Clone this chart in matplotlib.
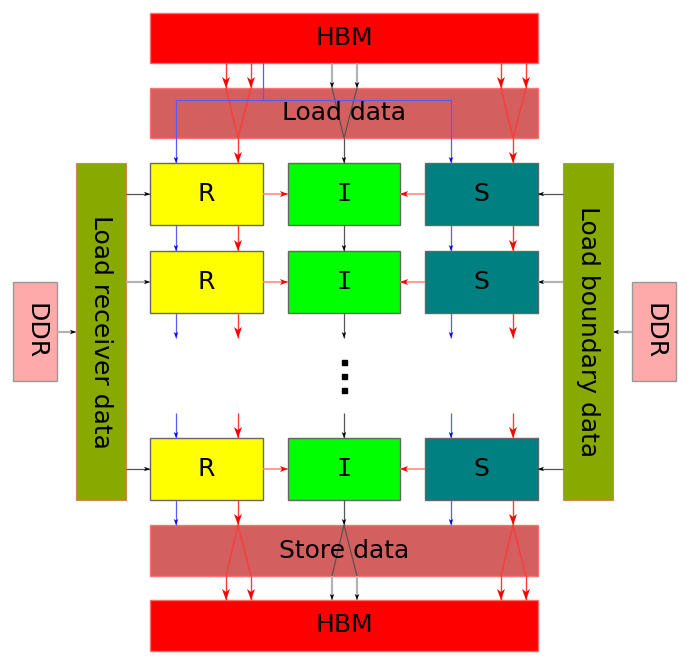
import matplotlib.pyplot as plt
from matplotlib.patches import Rectangle, Polygon

# labels of the diagram
hbm_label = "HBM"
load_label = "Load data"
store_label = "Store data"
kernel_labels = ["R", "I", "S"]
kernel_colors = ["#ffff00", "#00ff00", "#008080"]
side_labels = ["Load receiver data", "Load boundary data"]
ddr_label = "DDR"

fig = plt.figure(figsize=(6.9, 6.63), dpi=100)
ax = fig.add_axes([0, 0, 1, 1])
ax.set_xlim(0, 690)
ax.set_ylim(663, 0)
ax.axis("off")

FS = 18


def box(x0, y0, x1, y1, fc, ec, text="", rot=0, lw=1.0, z=1, family=None):
    ax.add_patch(Rectangle((x0, y0), x1 - x0, y1 - y0, facecolor=fc,
                           edgecolor=ec, lw=lw, zorder=z))
    if text:
        kw = {"family": family} if family else {}
        ax.text((x0 + x1) / 2, (y0 + y1) / 2, text, ha="center",
                va="center", rotation=rot, fontsize=FS, zorder=z + 5, **kw)


def head(x, y, dx, dy, color, L, W, notch):
    px, py = -dy, dx
    pts = [(x, y),
           (x - dx * L + px * W / 2, y - dy * L + py * W / 2),
           (x - dx * (L - notch), y - dy * (L - notch)),
           (x - dx * L - px * W / 2, y - dy * L - py * W / 2)]
    ax.add_patch(Polygon(pts, closed=True, facecolor=color, lw=0, zorder=6))


STYLE = {
    "red": dict(line="#ff3a3a", head="#ff0000", L=11, W=8, notch=3, lw=1.0),
    "pink": dict(line="#ff8a8a", head="#ff0000", L=8, W=6, notch=2, lw=1.2),
    "blue": dict(line="#5a5aff", head="#0000ff", L=6, W=4.5, notch=1.5, lw=0.9),
    "black": dict(line="#555555", head="#000000", L=6, W=4.5, notch=1.5, lw=0.9),
    "gray": dict(line="#b3b3b3", head="#000000", L=6, W=4.5, notch=1.5, lw=1.6),
}


def arrow(xs, ys, kind, tip=True):
    s = STYLE[kind]
    ax.plot(xs, ys, color=s["line"], lw=s["lw"], zorder=5,
            solid_capstyle="butt")
    if tip:
        dx, dy = xs[-1] - xs[-2], ys[-1] - ys[-2]
        n = (dx ** 2 + dy ** 2) ** 0.5
        head(xs[-1], ys[-1], dx / n, dy / n, s["head"], s["L"], s["W"], s["notch"])


# geometry
left, right = 150, 538
top_hbm = (13, 63)
load = (88, 138)
store = (525, 576)
bot_hbm = (600, 651)
cols = [(150, 263), (288, 400), (425, 538)]
rows = [(163, 225), (251, 313), (438, 500)]
xb_r, xr_r, xc_i, xb_s, xr_s = 176, 238, 344, 451, 513

# memory blocks
box(left, top_hbm[0], right, top_hbm[1], "#ff0000", "#ff6a6a", hbm_label)
box(left, load[0], right, load[1], "#d35f5f", "#ff7070", load_label)
box(left, store[0], right, store[1], "#d35f5f", "#ff7070", store_label)
box(left, bot_hbm[0], right, bot_hbm[1], "#ff0000", "#ff6a6a", hbm_label)

# kernels
for r, (y0, y1) in enumerate(rows):
    for (x0, x1), lab, c in zip(cols, kernel_labels, kernel_colors):
        fam = "DejaVu Sans Mono" if lab == "I" else None
        box(x0, y0, x1, y1, c, "#666666", lab, family=fam)

# side loaders and DDR
box(76, 163, 126, 500, "#88aa00", "#d4855a", side_labels[0], rot=270, lw=0.8)
box(563, 163, 613, 500, "#88aa00", "#d4855a", side_labels[1], rot=270, lw=0.8)
box(13, 282, 57, 381, "#ffaaaa", "#999999", ddr_label, rot=270)
box(632, 282, 676, 381, "#ffaaaa", "#999999", ddr_label, rot=270)

# DDR -> loaders
arrow([57, 76], [332, 332], "gray")
arrow([632, 613], [332, 332], "gray")

# loaders -> kernels, horizontal flows between kernels
for i, (y0, y1) in enumerate(rows):
    ym = (y0 + y1) / 2
    arrow([126, 150], [ym, ym], "gray" if i == 1 else "black")
    arrow([563, 538], [ym, ym], "gray" if i == 1 else "black")
    arrow([263, 288], [ym, ym], "pink")
    arrow([425, 400], [ym, ym], "pink")

# HBM -> Load data -> first row
for xa, xb, xm, k1, k2 in [(226, 251, xr_r, "red", "red"),
                           (332, 357, xc_i, "gray", "black"),
                           (501, 526, xr_s, "red", "red")]:
    arrow([xa, xa], [top_hbm[1], load[0]], k1)
    arrow([xb, xb], [top_hbm[1], load[0]], k1)
    arrow([xa, xm], [load[0], load[1]], k2, tip=False)
    arrow([xb, xm], [load[0], load[1]], k2, tip=False)
    arrow([xm, xm], [load[1], rows[0][0]], k2)

# blue bus from HBM
ax.plot([263, 263], [top_hbm[1], 100], color="#5a5aff", lw=0.9, zorder=5)
ax.plot([xb_r, xb_s], [100, 100], color="#5a5aff", lw=0.9, zorder=5)
arrow([xb_r, xb_r], [100, rows[0][0]], "blue")
arrow([xb_s, xb_s], [100, rows[0][0]], "blue")

# vertical flows between rows
cols_v = [(xb_r, "blue"), (xr_r, "red"), (xc_i, "black"), (xb_s, "blue"), (xr_s, "red")]
for x, k in cols_v:
    arrow([x, x], [rows[0][1], rows[1][0]], k)
    arrow([x, x], [rows[1][1], 338], k)
    arrow([x, x], [413, rows[2][0]], k)
    arrow([x, x], [rows[2][1], store[0]], k)

# "..." between rows
for yd in [362, 376, 390]:
    ax.add_patch(Rectangle((xc_i - 2.5, yd - 2.5), 5, 5, color="black", zorder=6))

# Store data -> HBM
for xa, xb, xm, k1, k2 in [(226, 251, xr_r, "red", "red"),
                           (332, 357, xc_i, "black", "gray"),
                           (501, 526, xr_s, "red", "red")]:
    arrow([xm, xa], [store[0], store[1]], k1, tip=False)
    arrow([xm, xb], [store[0], store[1]], k1, tip=False)
    arrow([xa, xa], [store[1], bot_hbm[0]], k2)
    arrow([xb, xb], [store[1], bot_hbm[0]], k2)

fig.savefig("out.png", dpi=100, facecolor="white")
